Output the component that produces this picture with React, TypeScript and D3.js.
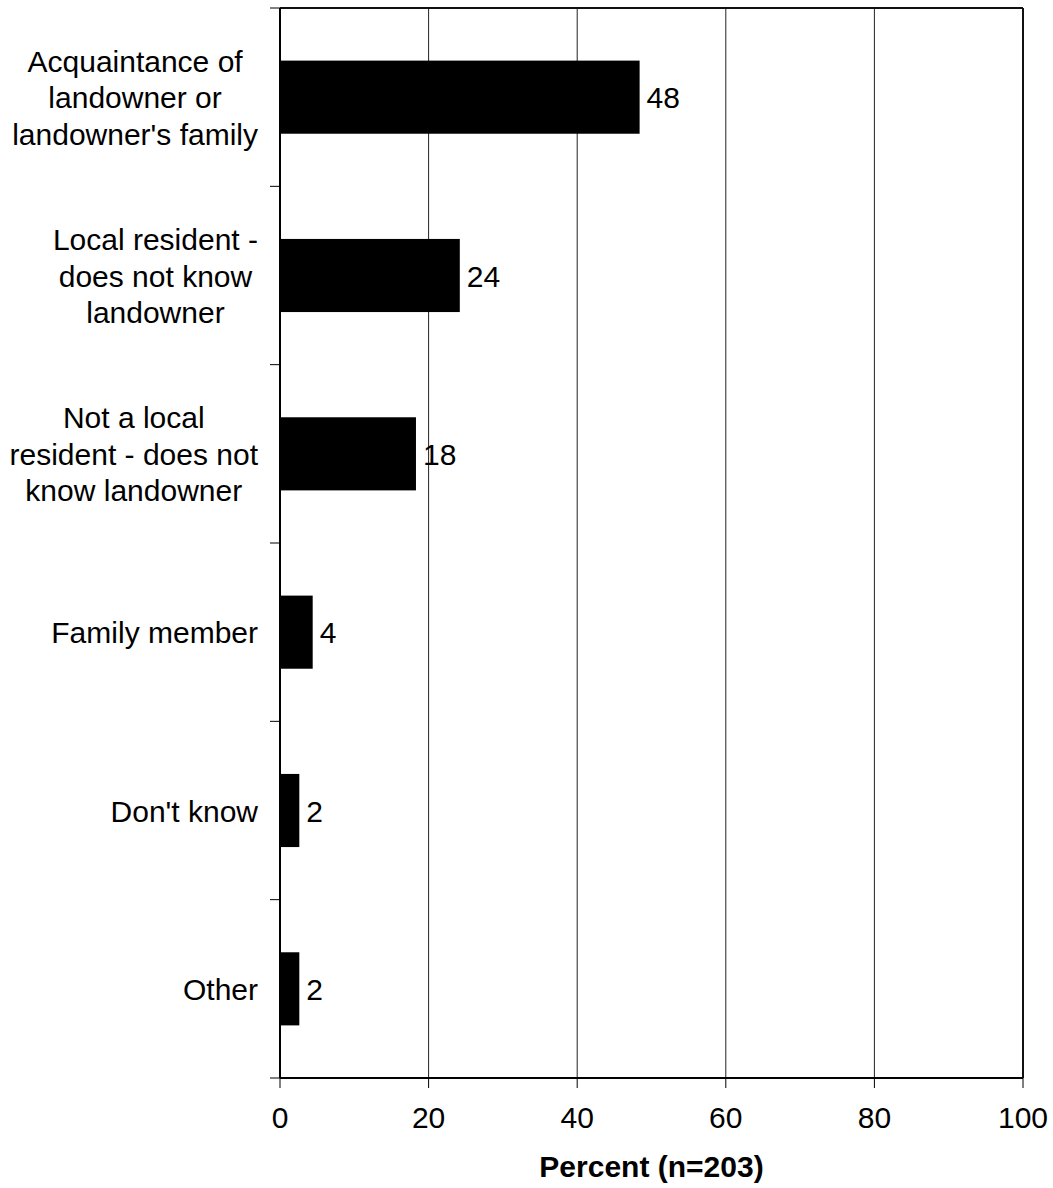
import React from "react";
import * as d3 from "d3";

const categories: string[][] = [
  ["Acquaintance of", "landowner or", "landowner's family"],
  ["Local resident -", "does not know", "landowner"],
  ["Not a local", "resident - does not", "know landowner"],
  ["Family member"],
  ["Don't know"],
  ["Other"],
];
const valueLabels = ["48", "24", "18", "4", "2", "2"];
const values = [48.4, 24.2, 18.3, 4.4, 2.6, 2.6];
const xTicks = [0, 20, 40, 60, 80, 100];
const xTitle = "Percent (n=203)";

const W = 1053;
const H = 1188;
const FONT = "Arial, 'Liberation Sans', Helvetica, sans-serif";
const FS = 30;

let ctx: CanvasRenderingContext2D | null = null;
function measure(t: string): number {
  if (!ctx) {
    const c = document.createElement("canvas");
    ctx = c.getContext("2d");
  }
  if (!ctx) return t.length * FS * 0.5;
  ctx.font = `${FS}px ${FONT}`;
  return ctx.measureText(t).width;
}

export default function App() {
  const left = 280, right = 1023, top = 8, bottom = 1078;
  const x = d3.scaleLinear().domain([0, 100]).range([left, right]);
  const ids = categories.map((_, i) => String(i));
  const y = d3.scaleBand<string>().domain(ids).range([top, bottom]).paddingInner(0.59).paddingOuter(0.295);
  const step = y.step();
  const boundaries = d3.range(categories.length + 1).map((i) => top + i * step);
  const lineH = 36.5;

  return (
    <svg width={W} height={H} style={{ position: "absolute", left: 0, top: 0, background: "#fff" }} fontFamily={FONT}>
      <rect x={0} y={0} width={W} height={H} fill="#fff" />
      {xTicks.slice(1, -1).map((t) => (
        <line key={"g" + t} x1={x(t)} x2={x(t)} y1={top} y2={bottom} stroke="#222" strokeWidth={1} />
      ))}
      <line x1={left} x2={right} y1={top} y2={top} stroke="#111" strokeWidth={2} />
      <line x1={right} x2={right} y1={top} y2={bottom} stroke="#111" strokeWidth={2} />
      {values.map((v, i) => (
        <rect key={"b" + i} x={x(0)} y={y(ids[i])!} width={x(v) - x(0)} height={y.bandwidth()} fill="#000" />
      ))}
      {values.map((v, i) => (
        <text key={"v" + i} x={x(v) + 7} y={y(ids[i])! + y.bandwidth() / 2 + 11} fontSize={FS} fill="#000">
          {valueLabels[i]}
        </text>
      ))}
      <line x1={left} x2={left} y1={top} y2={bottom} stroke="#000" strokeWidth={2} />
      <line x1={left} x2={right} y1={bottom} y2={bottom} stroke="#000" strokeWidth={2} />
      {boundaries.map((b, i) => (
        <line key={"yt" + i} x1={left - 10} x2={left} y1={b} y2={b} stroke="#000" strokeWidth={1} />
      ))}
      {xTicks.map((t) => (
        <g key={"xt" + t}>
          <line x1={x(t)} x2={x(t)} y1={bottom} y2={bottom + 10} stroke="#000" strokeWidth={1} />
          <text x={x(t)} y={bottom + 50} fontSize={FS} textAnchor="middle" fill="#000">
            {t}
          </text>
        </g>
      ))}
      {categories.map((lines, i) => {
        const maxW = Math.max(...lines.map(measure));
        const cx = 258 - maxW / 2;
        const cy = y(ids[i])! + y.bandwidth() / 2;
        const n = lines.length;
        return (
          <text key={"c" + i} fontSize={FS} textAnchor="middle" fill="#000">
            {lines.map((l, j) => (
              <tspan key={j} x={cx} y={cy + (j - (n - 1) / 2) * lineH + 11}>
                {l}
              </tspan>
            ))}
          </text>
        );
      })}
      <text x={(left + right) / 2} y={1177} fontSize={FS} fontWeight="bold" textAnchor="middle" fill="#000">
        {xTitle}
      </text>
    </svg>
  );
}
